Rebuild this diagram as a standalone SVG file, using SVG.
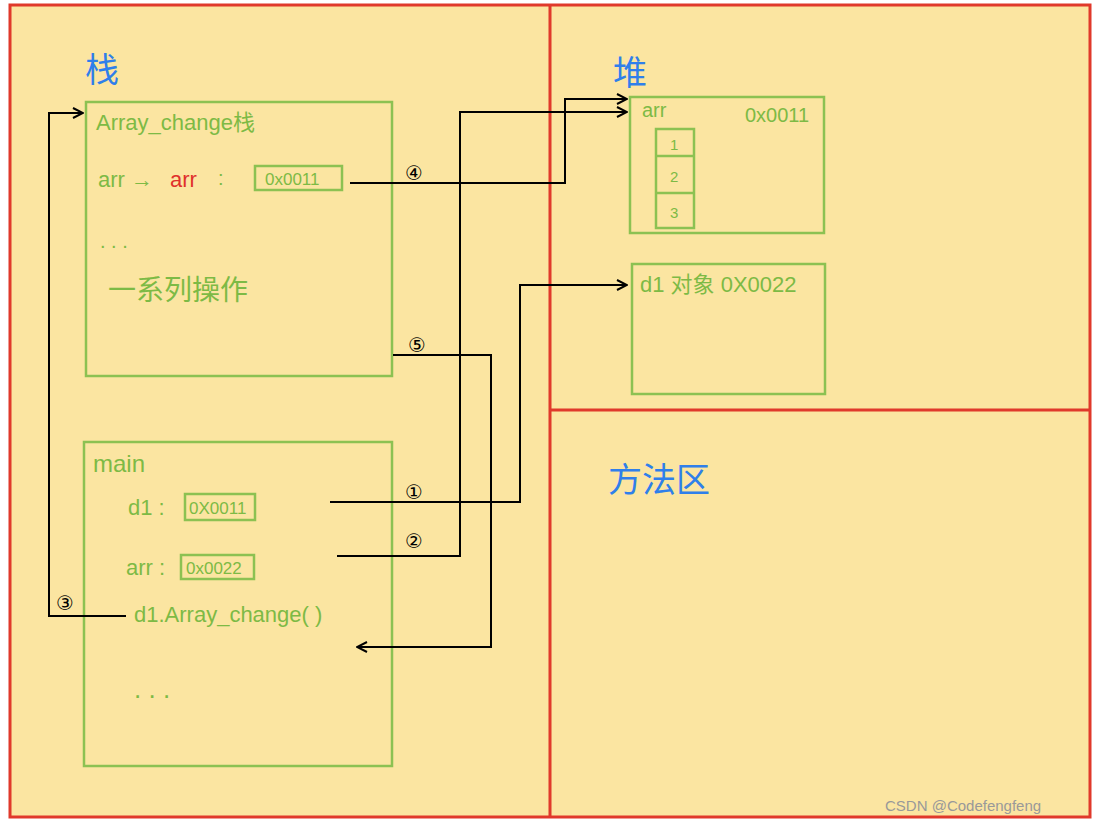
<svg xmlns="http://www.w3.org/2000/svg" width="1100" height="825" viewBox="0 0 1100 825">
<style>
.g{fill:none;stroke:#8CC152;stroke-width:2.5}
.gt{fill:#7DBA45;font-family:"Liberation Sans","Noto Sans CJK SC",sans-serif}
.bt{fill:#2F7FEA;font-family:"Noto Sans CJK SC",sans-serif;font-size:34px}
.c{fill:none;stroke:#000;stroke-width:2}
.n{font-family:"DejaVu Sans","Noto Sans CJK SC",sans-serif;font-size:20px;fill:#000}
</style>
<defs><marker id="a" markerWidth="12" markerHeight="12" refX="11" refY="6" orient="auto" markerUnits="userSpaceOnUse"><path d="M1,1 L11,6 L1,11" fill="none" stroke="#000" stroke-width="2"/></marker></defs>
<rect x="0" y="0" width="1100" height="825" fill="#FFFFFF"/>
<rect x="10" y="5" width="1080" height="812" fill="#FBE5A1"/>
<g id="frame" fill="none" stroke="#E0392B" stroke-width="3">
<rect x="10" y="5" width="1080" height="812"/>
<line x1="550" y1="5" x2="550" y2="817"/>
<line x1="550" y1="410" x2="1090" y2="410"/>
</g>
<text class="bt" x="85" y="82">栈</text>
<text class="bt" x="613" y="85">堆</text>
<text class="bt" x="608" y="492">方法区</text>
<g id="array_change">
<rect class="g" x="86" y="102" width="306" height="274"/>
<text class="gt" x="96" y="130" font-size="22">Array_change栈</text>
<text class="gt" x="98" y="187" font-size="22">arr →</text>
<text x="170" y="187" font-size="22" font-family="Liberation Sans,sans-serif" fill="#E0302A">arr</text>
<text class="gt" x="218" y="185" font-size="20">:</text>
<rect class="g" x="255" y="166" width="87" height="24"/>
<text class="gt" x="265" y="185" font-size="17">0x0011</text>
<text class="gt" x="100" y="248" font-size="20">. . .</text>
<text class="gt" x="108" y="300" font-size="28">一系列操作</text>
</g>
<g id="main">
<rect class="g" x="84" y="442" width="308" height="324"/>
<text class="gt" x="93" y="472" font-size="24">main</text>
<text class="gt" x="128" y="515" font-size="22">d1 :</text>
<rect class="g" x="185" y="494" width="70" height="26"/>
<text class="gt" x="189" y="514" font-size="17">0X0011</text>
<text class="gt" x="126" y="575" font-size="22">arr :</text>
<rect class="g" x="181" y="555" width="73" height="24"/>
<text class="gt" x="186" y="574" font-size="17">0x0022</text>
<text class="gt" x="134" y="622" font-size="22">d1.Array_change(   )</text>
<text class="gt" x="134" y="698" font-size="26">. . .</text>
</g>
<g id="heap_arr">
<rect class="g" x="630" y="97" width="194" height="136"/>
<text class="gt" x="642" y="117" font-size="20">arr</text>
<text class="gt" x="745" y="122" font-size="20">0x0011</text>
<rect class="g" x="656" y="129" width="38" height="99"/>
<line class="g" x1="656" y1="156" x2="694" y2="156"/>
<line class="g" x1="656" y1="193" x2="694" y2="193"/>
<text class="gt" x="670" y="150" font-size="15">1</text>
<text class="gt" x="670" y="182" font-size="15">2</text>
<text class="gt" x="670" y="218" font-size="15">3</text>
</g>
<g id="heap_d1">
<rect class="g" x="632" y="264" width="193" height="130"/>
<text class="gt" x="640" y="292" font-size="22">d1 对象  0X0022</text>
</g>
<g id="connectors">
<path class="c" d="M330,502 H520 V285 H627" marker-end="url(#a)"/>
<path class="c" d="M337,556 H460 V112 H627" marker-end="url(#a)"/>
<path class="c" d="M350,183 H565 V99 H627" marker-end="url(#a)"/>
<path class="c" d="M126,616 H49 V113 H83" marker-end="url(#a)"/>
<path class="c" d="M393,355 H491 V647 H357" marker-end="url(#a)"/>
<text class="n" x="405" y="180">④</text>
<text class="n" x="408" y="352">⑤</text>
<text class="n" x="405" y="499">①</text>
<text class="n" x="405" y="548">②</text>
<text class="n" x="56" y="610">③</text>
</g>
<text x="885" y="811" font-family="Liberation Sans,sans-serif" font-size="15" fill="#999">CSDN @Codefengfeng</text>
</svg>
